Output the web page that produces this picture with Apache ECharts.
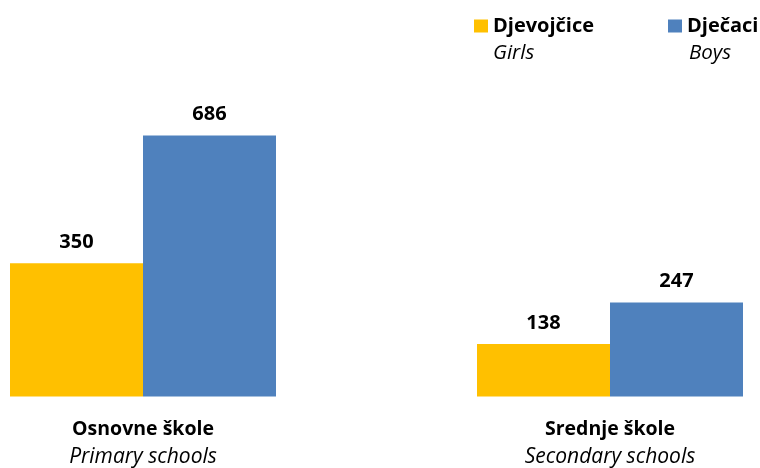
<!DOCTYPE html>
<html>
<head>
<meta charset="utf-8">
<script src="https://cdn.jsdelivr.net/npm/echarts@6/dist/echarts.min.js"></script>
<style>html,body{margin:0;padding:0;background:#fff}#c{width:760px;height:468px}</style>
</head>
<body>
<div id="c"></div>
<script>
const categories = ['Osnovne škole', 'Srednje škole'];
const categoriesEn = ['Primary schools', 'Secondary schools'];
const seriesNames = ['Djevojčice', 'Dječaci'];
const seriesNamesEn = ['Girls', 'Boys'];
const girls = [350, 138];
const boys = [686, 247];

const FONT = '"Open Sans", "DejaVu Sans", sans-serif';
const chart = echarts.init(document.getElementById('c'), null, {renderer: 'canvas'});
const labelStyle = {show: true, position: 'top', distance: 11, fontFamily: FONT, fontWeight: 'bold', fontSize: 20, color: '#000'};
chart.setOption({
  animation: false,
  backgroundColor: '#fff',
  grid: {left: 143, right: 150, top: 16, bottom: 71, containLabel: false},
  xAxis: {
    type: 'category',
    data: categories,
    boundaryGap: false,
    axisLine: {show: false},
    axisTick: {show: false},
    splitLine: {show: false},
    axisLabel: {
      margin: 19,
      interval: 0,
      formatter: function (v, i) { return '{b|' + v + '}\n{i|' + categoriesEn[i] + '}'; },
      rich: {
        b: {fontFamily: FONT, fontWeight: 'bold', fontSize: 19.5, color: '#000', lineHeight: 28},
        i: {fontFamily: FONT, fontStyle: 'italic', fontSize: 21, color: '#000', lineHeight: 28}
      }
    }
  },
  yAxis: {type: 'value', min: 0, max: 1000, show: false, splitLine: {show: false}},
  legend: [
    {data: [seriesNames[0]], left: 474, top: 16, itemWidth: 14, itemHeight: 13, icon: 'rect', padding: 0,
     textStyle: {fontFamily: FONT, fontWeight: 'bold', fontSize: 20, color: '#000'}},
    {data: [seriesNames[1]], left: 668, top: 16, itemWidth: 14, itemHeight: 13, icon: 'rect', padding: 0,
     textStyle: {fontFamily: FONT, fontWeight: 'bold', fontSize: 20, color: '#000'}}
  ],
  graphic: [
    {type: 'text', left: 493, top: 43, style: {text: seriesNamesEn[0], fontFamily: FONT, fontStyle: 'italic', fontSize: 20.5, fill: '#000'}},
    {type: 'text', left: 689, top: 43, style: {text: seriesNamesEn[1], fontFamily: FONT, fontStyle: 'italic', fontSize: 20.5, fill: '#000'}}
  ],
  series: [
    {name: seriesNames[0], type: 'bar', data: girls, barWidth: 133, barGap: '0%', clip: false, itemStyle: {color: '#FFC000'}, label: labelStyle},
    {name: seriesNames[1], type: 'bar', data: boys, barWidth: 133, barGap: '0%', clip: false, itemStyle: {color: '#4F81BD'}, label: labelStyle}
  ]
});
</script>
</body>
</html>
